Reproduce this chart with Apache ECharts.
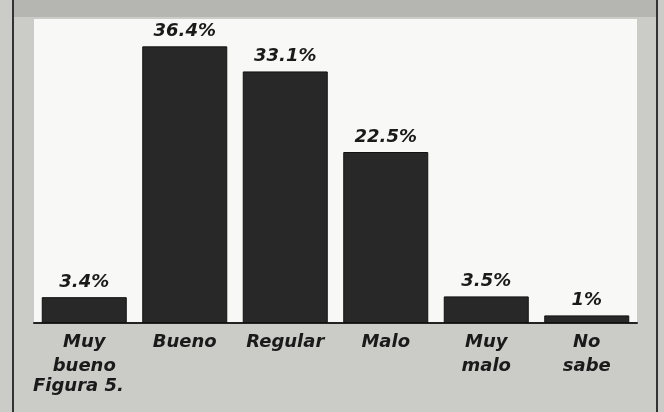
<!DOCTYPE html>
<html>
<head>
<meta charset="utf-8">
<style>
  html, body { margin: 0; padding: 0; background: #cbcbc8; }
  #main { width: 664px; height: 412px; }
</style>
<script src="https://cdn.jsdelivr.net/npm/echarts@6/dist/echarts.min.js"></script>
</head>
<body>
<div id="main"></div>
<script>
const categories = ['Muy\nbueno', 'Bueno', 'Regular', 'Malo', 'Muy\nmalo', 'No\nsabe']
const percents = [3.4, 36.4, 33.1, 22.5, 3.5, 1]
const yTicks = [0, 40]

const chart = echarts.init(document.getElementById('main'))
const option = {
  backgroundColor: '#cbcbc8',
  textStyle: { fontFamily: 'DejaVu Sans, sans-serif' },
  grid: {
    left: 34,
    right: 27,
    top: 19,
    bottom: 89,
    show: true,
    backgroundColor: '#f8f8f6',
    borderWidth: 0
  },
  graphic: [
    // top gray band
    { type: 'rect', shape: { x: 14, y: 0, width: 643, height: 17 }, style: { fill: '#b5b5b2' }, z: -1 },
    // frame lines
    { type: 'rect', shape: { x: 12, y: 0, width: 2, height: 412 }, style: { fill: '#333' } },
    { type: 'rect', shape: { x: 656, y: 0, width: 2, height: 412 }, style: { fill: '#333' } },
    {
      type: 'text',
      left: 33,
      top: 377,
      style: {
        text: 'Figura 5.',
        fill: '#1a1a1a',
        font: 'italic bold 18px "DejaVu Sans", sans-serif'
      }
    }
  ],
  xAxis: {
    type: 'category',
    data: categories,
    axisTick: { show: false },
    axisLine: { show: true, lineStyle: { color: '#222', width: 2 } },
    axisLabel: {
      color: '#1a1a1a',
      fontSize: 18,
      fontWeight: 'bold',
      fontStyle: 'italic',
      lineHeight: 24,
      margin: 7,
      interval: 0
    }
  },
  yAxis: {
    type: 'value',
    min: yTicks[0],
    max: yTicks[1],
    show: false,
    splitLine: { show: false }
  },
  series: [{
    type: 'bar',
    data: percents,
    barWidth: 85,
    itemStyle: { color: '#282828', borderColor: '#111', borderWidth: 1 },
    label: {
      show: true,
      position: 'top',
      distance: 6,
      formatter: '{c}%',
      color: '#1a1a1a',
      fontSize: 18,
      fontWeight: 'bold',
      fontStyle: 'italic'
    }
  }]
}
chart.setOption(option)
</script>
</body>
</html>
